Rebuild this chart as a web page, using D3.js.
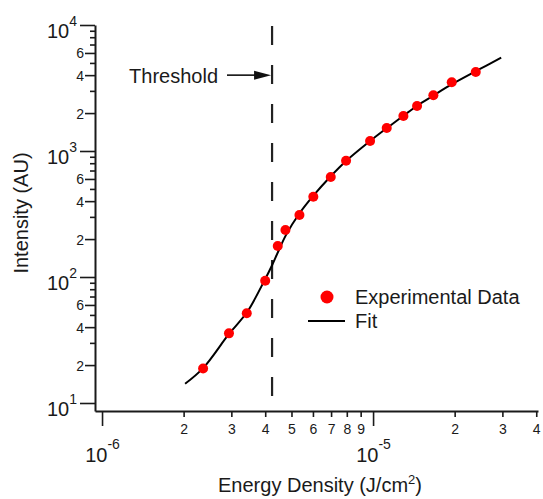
<!DOCTYPE html>
<html>
<head>
<meta charset="utf-8">
<script src="https://cdn.jsdelivr.net/npm/d3@7"></script>
<style>
  body { margin: 0; background: #fff; }
  text { font-family: "Liberation Sans", Arial, sans-serif; fill: #1a1a1a; }
  .axis .domain, .axis line { stroke: #1a1a1a; }
</style>
</head>
<body>
<svg id="chart"></svg>
<script>
// measured points (J/cm^2, AU)
var energy = [2.36e-6, 2.94e-6, 3.42e-6, 4.00e-6, 4.45e-6, 4.75e-6, 5.35e-6, 6.02e-6, 6.98e-6,
              7.95e-6, 9.75e-6, 1.123e-5, 1.294e-5, 1.453e-5, 1.669e-5, 1.951e-5, 2.393e-5];
var intensity = [18.8, 35.7, 51.5, 93.5, 176, 236, 310, 434, 622,
                 838, 1200, 1523, 1895, 2277, 2767, 3510, 4236];

// fit curve
var fitEnergy = [2.025e-6, 2.36e-6, 2.94e-6, 3.43e-6, 4.00e-6, 4.24e-6, 4.46e-6, 4.77e-6, 5.33e-6, 6.01e-6,
                 6.94e-6, 7.95e-6, 9.75e-6, 1.126e-5, 1.29e-5, 1.45e-5, 1.66e-5, 1.96e-5, 2.40e-5, 2.97e-5];
var fitIntensity = [14.2, 18.9, 35.3, 52.7, 96.4, 124, 158, 215, 316, 440,
                    622, 833, 1200, 1523, 1895, 2277, 2733, 3404, 4315, 5502];

var threshold = 4.24e-6;

var xTicks = [1e-6, 2e-6, 3e-6, 4e-6, 5e-6, 6e-6, 7e-6, 8e-6, 9e-6, 1e-5, 2e-5, 3e-5, 4e-5];
var yTicks = [10, 20, 30, 40, 50, 60, 70, 80, 90,
              100, 200, 300, 400, 500, 600, 700, 800, 900,
              1000, 2000, 3000, 4000, 5000, 6000, 7000, 8000, 9000, 10000];
var yLabeledDigits = [2, 4, 6];

var width = 543,
    height = 499;

var svg = d3.select("#chart")
    .attr("width", width)
    .attr("height", height);

var x = d3.scaleLog().domain([9.42e-7, 4.06e-5]).range([95, 538]);
var y = d3.scaleLog().domain([8.64, 1e4]).range([411, 25]);

function mantissa(v) {
    return Math.round(v / Math.pow(10, Math.floor(Math.log10(v) + 1e-9)));
}
function isDecade(v) { return mantissa(v) === 1; }
function exponent(v) { return Math.round(Math.log10(v)); }

// x axis
var gx = svg.append("g")
    .attr("class", "axis")
    .attr("transform", "translate(0,411)")
    .call(d3.axisBottom(x).tickValues(xTicks).tickSize(6).tickSizeOuter(0).tickFormat(""));

gx.select(".domain").attr("stroke-width", 2);
gx.selectAll(".tick line")
    .attr("stroke-width", 1.6)
    .attr("y2", function(d) { return isDecade(d) ? 15 : 6; });
gx.selectAll(".tick text").each(function(d) {
    var t = d3.select(this).attr("dy", null).attr("text-anchor", "middle");
    if (isDecade(d)) {
        t.attr("y", 51).attr("font-size", 20);
        t.append("tspan").text("10");
        t.append("tspan").attr("dy", -13).attr("font-size", 14).text(exponent(d));
    } else {
        t.attr("y", 23).attr("font-size", 14).text(mantissa(d));
    }
});

// y axis
var gy = svg.append("g")
    .attr("class", "axis")
    .attr("transform", "translate(95,0)")
    .call(d3.axisLeft(y).tickValues(yTicks).tickSize(6).tickSizeOuter(0).tickFormat(""));

gy.select(".domain").attr("stroke-width", 2);
gy.selectAll(".tick line")
    .attr("stroke-width", 1.6)
    .attr("x2", function(d) {
        if (isDecade(d)) return -15;
        return yLabeledDigits.indexOf(mantissa(d)) >= 0 ? -10 : -5;
    });
gy.selectAll(".tick text").each(function(d) {
    var t = d3.select(this).attr("dy", null).attr("text-anchor", "end");
    if (isDecade(d)) {
        t.attr("x", -18).attr("y", 12).attr("font-size", 20);
        t.append("tspan").text("10");
        t.append("tspan").attr("dy", -12).attr("font-size", 14).text(exponent(d));
    } else if (yLabeledDigits.indexOf(mantissa(d)) >= 0) {
        t.attr("x", -11).attr("y", 5).attr("font-size", 14).text(mantissa(d));
    }
});

// axis titles
var xt = svg.append("text")
    .attr("x", 320).attr("y", 492)
    .attr("text-anchor", "middle")
    .attr("font-size", 20);
xt.append("tspan").text("Energy Density (J/cm");
xt.append("tspan").attr("dy", -8).attr("font-size", 13).text("2");
xt.append("tspan").attr("dy", 8).text(")");

svg.append("text")
    .attr("transform", "translate(28,213) rotate(-90)")
    .attr("text-anchor", "middle")
    .attr("font-size", 20)
    .text("Intensity (AU)");

// threshold line
var tx = x(threshold);
svg.append("line")
    .attr("x1", tx).attr("x2", tx)
    .attr("y1", y(1e4) + 1).attr("y2", 411)
    .attr("stroke", "#222")
    .attr("stroke-width", 2.2)
    .attr("stroke-dasharray", "19,20");

// threshold annotation
var ay = y(4000);
svg.append("line")
    .attr("x1", 227).attr("x2", 256)
    .attr("y1", ay).attr("y2", ay)
    .attr("stroke", "#111").attr("stroke-width", 1.6);
svg.append("path")
    .attr("d", "M" + (tx - 1) + "," + ay + "L" + (tx - 18) + "," + (ay - 4.5) + "L" + (tx - 18) + "," + (ay + 4.5) + "Z")
    .attr("fill", "#111");
svg.append("text")
    .attr("x", 218).attr("y", ay + 8)
    .attr("text-anchor", "end")
    .attr("font-size", 20)
    .text("Threshold");

// fit
var line = d3.line()
    .x(function(d) { return x(d[0]); })
    .y(function(d) { return y(d[1]); })
    .curve(d3.curveCatmullRom.alpha(0.5));

svg.append("path")
    .datum(d3.zip(fitEnergy, fitIntensity))
    .attr("d", line)
    .attr("fill", "none")
    .attr("stroke", "#000")
    .attr("stroke-width", 2);

// data points
svg.append("g")
    .selectAll("circle")
    .data(d3.zip(energy, intensity))
    .join("circle")
    .attr("cx", function(d) { return x(d[0]); })
    .attr("cy", function(d) { return y(d[1]); })
    .attr("r", 5)
    .attr("fill", "#ff0000");

// legend
var lg = svg.append("g");
lg.append("circle").attr("cx", 327).attr("cy", 297).attr("r", 6.5).attr("fill", "#ff0000");
lg.append("text").attr("x", 355).attr("y", 304).attr("font-size", 20).text("Experimental Data");
lg.append("line").attr("x1", 308).attr("x2", 345).attr("y1", 321).attr("y2", 321)
    .attr("stroke", "#000").attr("stroke-width", 2);
lg.append("text").attr("x", 355).attr("y", 328).attr("font-size", 20).text("Fit");
</script>
</body>
</html>
